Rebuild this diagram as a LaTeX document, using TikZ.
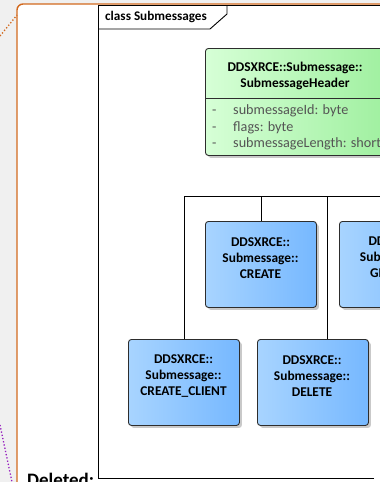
\documentclass[tikz,border=0pt]{standalone}
\usepackage{fontspec}
\setmainfont{Carlito}
\usetikzlibrary{shadows}
\definecolor{bggray}{RGB}{240,240,240}
\definecolor{frameorange}{RGB}{210,105,30}
\definecolor{dotpurple}{RGB}{150,30,190}
\definecolor{blueL}{RGB}{168,212,255}
\definecolor{blueR}{RGB}{118,184,255}
\definecolor{greenL}{RGB}{214,255,214}
\definecolor{greenR}{RGB}{160,240,160}
\definecolor{boxborder}{RGB}{45,45,45}
\definecolor{attrgray}{RGB}{85,85,85}
\begin{document}
\begin{tikzpicture}[x=1pt,y=-1pt,
  umlbox/.style={draw=boxborder, line width=0.9pt, rounded corners=3pt,
    inner sep=0pt, anchor=north west,
    drop shadow={shadow xshift=2.5pt, shadow yshift=-2.5pt, fill=black!35, opacity=0.6}},
  bluebox/.style={umlbox, left color=blueL, right color=blueR,
    minimum width=111pt, minimum height=86pt},
  greenbox/.style={umlbox, left color=greenL, right color=greenR,
    minimum width=180pt, minimum height=107pt},
  nametext/.style={align=center, inner sep=0pt,
    font=\fontsize{13.4}{16}\selectfont\bfseries},
  attrtext/.style={anchor=base west, inner sep=0pt, text=attrgray,
    font=\fontsize{14.2}{16}\selectfont},
  conn/.style={draw=black, line width=0.9pt},
]
\useasboundingbox (0,0) rectangle (380,482);
\clip (0,0) rectangle (380,482);
\fill[bggray] (0,0) rectangle (380,482);
% orange outer frame
\draw[frameorange, line width=1.4pt, fill=white, rounded corners=6pt]
  (17,520) -- (17,4) -- (420,4) -- (420,520);
% dotted lines
\draw[frameorange, dotted, line width=1.3pt] (0,36) -- (17,15);
\draw[dotpurple, dotted, line width=1.3pt] (0,425) -- (12,482);
% diagram frame
\draw[black, line width=0.9pt] (374,478) -- (98,478) -- (98,5) -- (420,5);
\draw[black, line width=0.9pt] (98,29) -- (210,29) -- (227,14) -- (227,5);
\node[anchor=west, inner sep=0pt, font=\fontsize{13.2}{15}\selectfont\bfseries] (title) at (105,17) {class Submessages};
% header class
\node[greenbox] (H) at (205,48) {};
\draw[boxborder, line width=0.9pt] (205,98) -- (385,98);
\node[nametext] (Ht) at (295,75.5) {DDSXRCE::Submessage::\\SubmessageHeader};
\node[attrtext] (a1d) at (212,114.5) {-};
\node[attrtext] (a1) at (233,114.5) {submessageId: byte};
\node[attrtext] (a2d) at (212,131) {-};
\node[attrtext] (a2) at (233,131) {flags: byte};
\node[attrtext] (a3d) at (212,147.5) {-};
\node[attrtext] (a3) at (233,147.5) {submessageLength: short};
% subclasses
\node[bluebox] (CR) at (205,221) {};
\node[nametext] (CRt) at (260.5,258) {DDSXRCE::\\Submessage::\\CREATE};
\node[bluebox] (GI) at (339,221) {};
\node[nametext] (GIt) at (398,258) {DDSXRCE::\\Submessage::\\GET\_INFO};
\node[bluebox] (CC) at (128,339) {};
\node[nametext] (CCt) at (183.5,376) {DDSXRCE::\\Submessage::\\CREATE\_CLIENT};
\node[bluebox] (DE) at (257,339) {};
\node[nametext] (DEt) at (312,376) {DDSXRCE::\\Submessage::\\DELETE};
% generalization tree
\coordinate (busR) at (420,196);
\coordinate (jD) at (327,196);
\draw[conn] (CC.north) |- (busR);
\draw[conn] (CR.north) -- (CR.north |- busR);
\draw[conn] (GI.north) -- (GI.north |- busR);
\draw[conn] (jD) -- (jD |- DE.north);
% deleted label
\node[anchor=base west, inner sep=0pt, font=\fontsize{19}{22}\selectfont\bfseries] (del) at (27,486) {Deleted:};
\end{tikzpicture}
\end{document}
